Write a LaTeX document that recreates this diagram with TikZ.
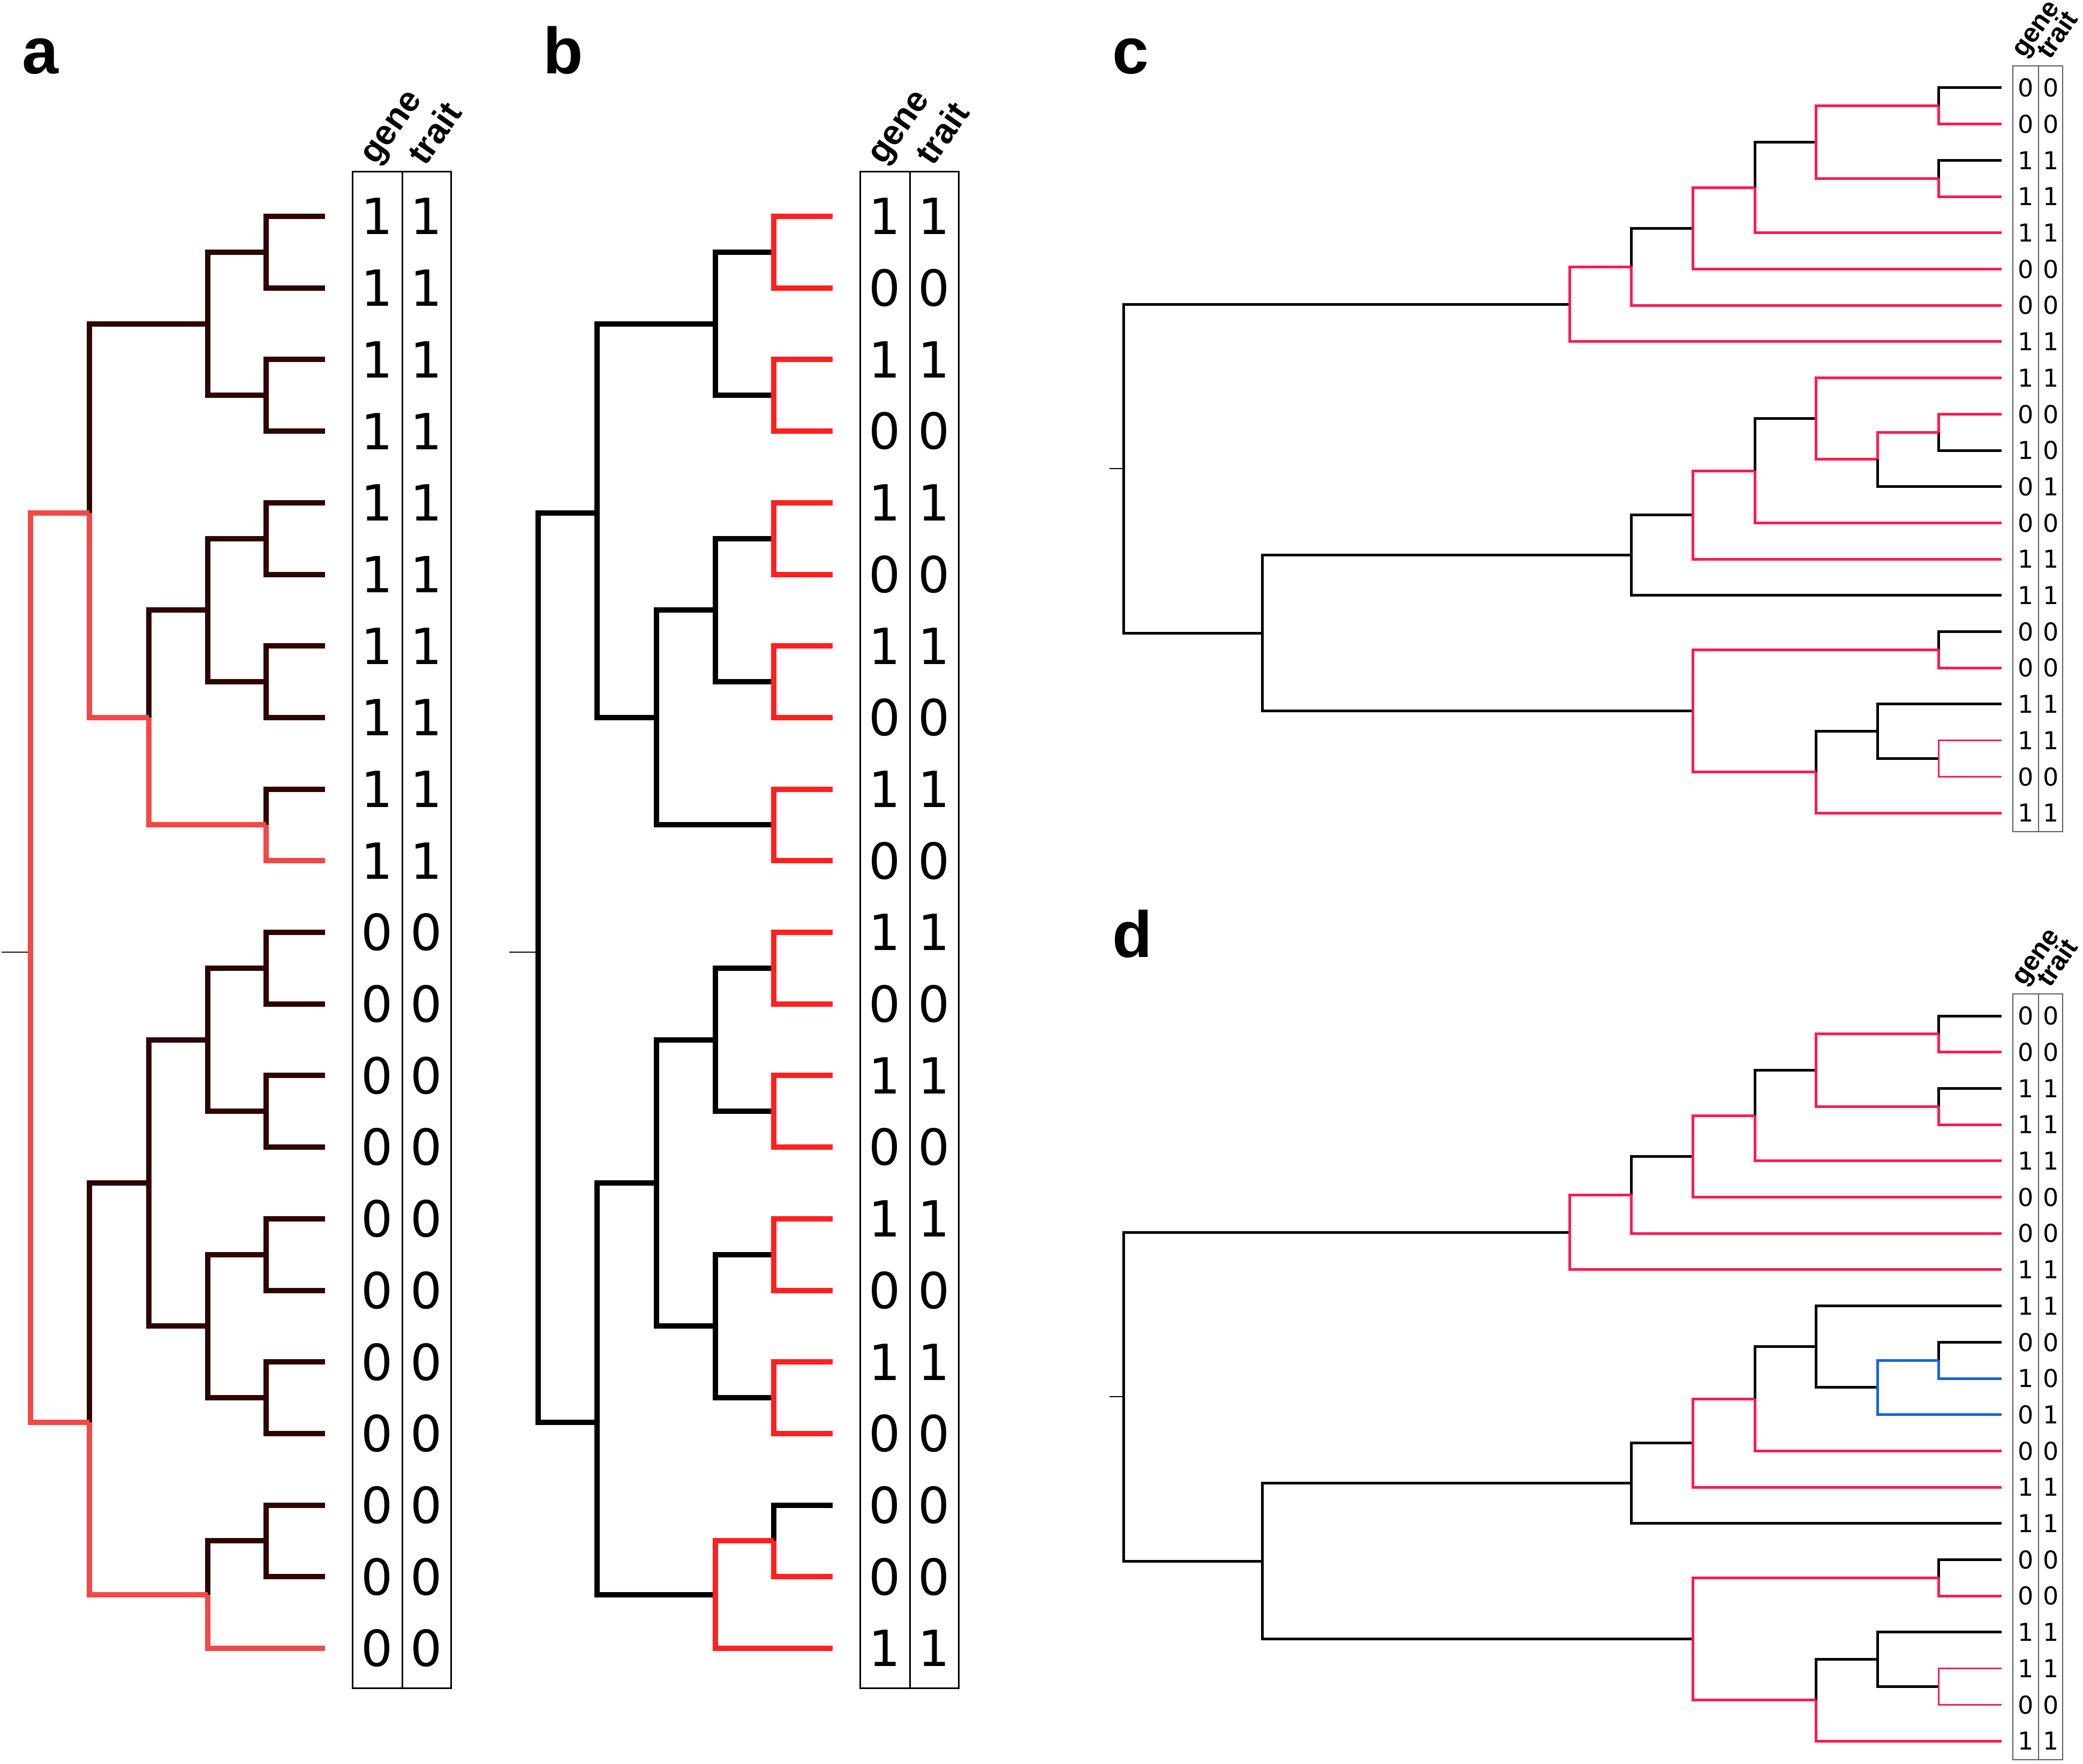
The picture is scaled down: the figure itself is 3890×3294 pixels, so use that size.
\documentclass[tikz,border=0pt]{standalone}
\usepackage{fontspec}
\newfontfamily\dfont{DejaVu Sans}
\newfontfamily\lfont{Liberation Sans}
\definecolor{adark}{RGB}{45,6,2}
\definecolor{ared}{RGB}{242,72,72}
\definecolor{bred}{RGB}{255,32,32}
\definecolor{cred}{RGB}{255,25,80}
\definecolor{cblue}{RGB}{20,100,230}
\definecolor{boxgray}{RGB}{90,90,90}
\tikzset{
  abline/.style={line width=10pt},
  adk/.style={abline,draw=adark},
  ard/.style={abline,draw=ared},
  bbk/.style={abline,draw=black},
  brd/.style={abline,draw=bred},
  cdline/.style={line width=5pt},
  cbk/.style={cdline,draw=black},
  crd/.style={cdline,draw=cred},
  cbl/.style={cdline,draw=cblue},
  crdthin/.style={line width=3pt,draw=cred},
  rootstub/.style={line width=2.5pt},
  bigbox/.style={draw=black,line width=3pt},
  smallbox/.style={draw=boxgray,line width=2.5pt},
  bigdigit/.style={font={\dfont\fontsize{93}{100}\selectfont},inner sep=0pt,anchor=center},
  smalldigit/.style={font={\dfont\fontsize{46}{50}\selectfont},inner sep=0pt,anchor=center},
  bighead/.style={font={\lfont\bfseries\fontsize{65}{70}\selectfont},rotate=55,anchor=base west,inner sep=0pt},
  smallhead/.style={font={\lfont\bfseries\fontsize{50}{54}\selectfont},rotate=55,anchor=base west,inner sep=0pt},
  panellabel/.style={font={\lfont\bfseries\fontsize{122}{130}\selectfont},anchor=base west,inner sep=0pt},
}
% coordinates of trees a and b
\newcommand\abcoords[1]{%
  \foreach \i in {1,...,21}{\coordinate (#1l\i) at (607,{404+133.7*(\i-1)});}
  \coordinate (#1c12) at (497,470.85);
  \coordinate (#1c34) at (497,738.25);
  \coordinate (#1c56) at (497,1005.65);
  \coordinate (#1c78) at (497,1273.05);
  \coordinate (#1c910) at (497,1540.45);
  \coordinate (#1c1112) at (497,1807.85);
  \coordinate (#1c1314) at (497,2075.25);
  \coordinate (#1c1516) at (497,2342.65);
  \coordinate (#1c1718) at (497,2610.05);
  \coordinate (#1c1920) at (497,2877.45);
  \coordinate (#1NA) at (387.5,604.55);
  \coordinate (#1NC) at (387.5,1139.35);
  \coordinate (#1NB) at (278,1339.9);
  \coordinate (#1Ntop) at (167,958);
  \coordinate (#1NF) at (387.5,1941.55);
  \coordinate (#1NG) at (387.5,2476.35);
  \coordinate (#1ND) at (278,2208.95);
  \coordinate (#1NE) at (387.5,2977.7);
  \coordinate (#1Nbot) at (167,2656);
  \coordinate (#1root) at (57,1778);
  \coordinate (#1stub) at (3,1778);
}
% table of a and b
\newcommand\abtable[3]{%
  \draw[bigbox] (658,321) rectangle (842,3152);
  \draw[bigbox] (751,321) -- (751,3152);
  \foreach \g [count=\i] in {#2}{\node[bigdigit] (#1g\i) at (704.5,{404+133.7*(\i-1)}) {\g};}
  \foreach \t [count=\i] in {#3}{\node[bigdigit] (#1t\i) at (796.5,{404+133.7*(\i-1)}) {\t};}
  \node[bighead] (#1hg) at (702,310) {gene};
  \node[bighead] (#1ht) at (794,312) {trait};
}
% coordinates of trees c and d
\newcommand\cdcoords[1]{%
  \foreach \i in {1,...,21}{\coordinate (#1l\i) at (3738,{164+67.7*(\i-1)});}
  \coordinate (#1N12) at (3620.5,197.85);
  \coordinate (#1N34) at (3620.5,333.25);
  \coordinate (#1N4) at (3391,265.55);
  \coordinate (#1N5) at (3277,350.15);
  \coordinate (#1N6) at (3161,426.3);
  \coordinate (#1N7) at (3046.5,498.25);
  \coordinate (#1T) at (2931,568.05);
  \coordinate (#1M1011) at (3620.5,807.15);
  \coordinate (#1M12) at (3506,857.9);
  \coordinate (#1M9) at (3391,781.75);
  \coordinate (#1M13) at (3277,879.1);
  \coordinate (#1M14) at (3161,961.6);
  \coordinate (#1B1) at (3046.5,1036.7);
  \coordinate (#1M1920) at (3620.5,1416.45);
  \coordinate (#1M18) at (3506,1365.7);
  \coordinate (#1M21) at (3391,1441.85);
  \coordinate (#1M1617) at (3620.5,1213.35);
  \coordinate (#1B2) at (3161,1327.6);
  \coordinate (#1B) at (2357,1182.15);
  \coordinate (#1root) at (2098,875.1);
  \coordinate (#1stub) at (2072,875.1);
}
% branches of c and d; #2..#7 styles of the branches that differ
\newcommand\cdbranches[7]{%
  \draw[black,rootstub] (#1stub) -- (#1root);
  \draw[cbk] (#1root) |- (#1T) (#1root) |- (#1B)
    (#1N7) |- (#1N6) (#1N5) |- (#1N4)
    (#1N12) |- (#1l1) (#1N34) |- (#1l3)
    (#1B) |- (#1B1) (#1B) |- (#1B2)
    (#1B1) |- (#1M14) (#1B1) |- (#1l15)
    (#1M13) |- (#1M9)
    (#1M1617) |- (#1l16)
    (#1M21) |- (#1M18) (#1M18) |- (#1l18) (#1M18) |- (#1M1920);
  \draw[crd] (#1T) |- (#1N7) (#1T) |- (#1l8)
    (#1N7) |- (#1l7) (#1N6) |- (#1N5) (#1N6) |- (#1l6)
    (#1N5) |- (#1l5) (#1N4) |- (#1N12) (#1N4) |- (#1N34)
    (#1N12) |- (#1l2) (#1N34) |- (#1l4)
    (#1M14) |- (#1M13) (#1M14) |- (#1l14) (#1M13) |- (#1l13)
    (#1B2) |- (#1M1617) (#1B2) |- (#1M21)
    (#1M1617) |- (#1l17) (#1M21) |- (#1l21);
  \draw[crdthin] (#1M1920) |- (#1l19) (#1M1920) |- (#1l20);
  \draw[#2] (#1M9) |- (#1l9);
  \draw[#3] (#1M9) |- (#1M12);
  \draw[#5] (#1M12) |- (#1l12);
  \draw[#6] (#1M1011) |- (#1l10);
  \draw[#7] (#1M1011) |- (#1l11);
  \draw[#4] (#1M12) |- (#1M1011);
}
\newcommand\cdtable[1]{%
  \draw[smallbox] (3759,123) rectangle (3852,1553);
  \draw[smallbox] (3807,123) -- (3807,1553);
  \foreach \g [count=\i] in {0,0,1,1,1,0,0,1,1,0,1,0,0,1,1,0,0,1,1,0,1}{\node[smalldigit] (#1g\i) at (3783,{164+67.7*(\i-1)}) {\g};}
  \foreach \t [count=\i] in {0,0,1,1,1,0,0,1,1,0,0,1,0,1,1,0,0,1,1,0,1}{\node[smalldigit] (#1t\i) at (3830,{164+67.7*(\i-1)}) {\t};}
  \node[smallhead] (#1hg) at (3780,110) {gene};
  \node[smallhead] (#1ht) at (3828,113) {trait};
}
\begin{document}
\begin{tikzpicture}[x=1pt,y=-1pt]
\useasboundingbox (0,0) rectangle (3890,3294);
\fill[white] (0,0) rectangle (3890,3294);

% panel labels
\node[panellabel] (labA) at (41,138) {a};
\node[panellabel] (labB) at (1014,138) {b};
\node[panellabel] (labC) at (2077,138) {c};
\node[panellabel] (labD) at (2077,1787) {d};

% ---------- panel a ----------
\abcoords{a}
\draw[adark,rootstub] (astub) -- (aroot);
\draw[adk] (aNtop) |- (aNA) (aNA) |- (ac12) (aNA) |- (ac34)
  (ac12) |- (al1) (ac12) |- (al2) (ac34) |- (al3) (ac34) |- (al4)
  (aNB) |- (aNC) (aNC) |- (ac56) (aNC) |- (ac78)
  (ac56) |- (al5) (ac56) |- (al6) (ac78) |- (al7) (ac78) |- (al8)
  (ac910) |- (al9)
  (aNbot) |- (aND) (aND) |- (aNF) (aND) |- (aNG)
  (aNF) |- (ac1112) (aNF) |- (ac1314) (aNG) |- (ac1516) (aNG) |- (ac1718)
  (ac1112) |- (al11) (ac1112) |- (al12) (ac1314) |- (al13) (ac1314) |- (al14)
  (ac1516) |- (al15) (ac1516) |- (al16) (ac1718) |- (al17) (ac1718) |- (al18)
  (aNE) |- (ac1920) (ac1920) |- (al19) (ac1920) |- (al20);
\draw[ard] (aroot) |- (aNtop) (aroot) |- (aNbot)
  (aNtop) |- (aNB) (aNB) |- (ac910) (ac910) |- (al10)
  (aNbot) |- (aNE) (aNE) |- (al21);
\abtable{a}{1,1,1,1,1,1,1,1,1,1,0,0,0,0,0,0,0,0,0,0,0}{1,1,1,1,1,1,1,1,1,1,0,0,0,0,0,0,0,0,0,0,0}

% ---------- panel b ----------
\begin{scope}[shift={(948,0)}]
\abcoords{b}
\draw[black,rootstub] (bstub) -- (broot);
\draw[bbk] (broot) |- (bNtop) (broot) |- (bNbot)
  (bNtop) |- (bNA) (bNtop) |- (bNB)
  (bNA) |- (bc12) (bNA) |- (bc34)
  (bNB) |- (bNC) (bNB) |- (bc910) (bNC) |- (bc56) (bNC) |- (bc78)
  (bNbot) |- (bND) (bND) |- (bNF) (bND) |- (bNG)
  (bNF) |- (bc1112) (bNF) |- (bc1314) (bNG) |- (bc1516) (bNG) |- (bc1718)
  (bNbot) |- (bNE) (bc1920) |- (bl19);
\draw[brd] (bc12) |- (bl1) (bc12) |- (bl2) (bc34) |- (bl3) (bc34) |- (bl4)
  (bc56) |- (bl5) (bc56) |- (bl6) (bc78) |- (bl7) (bc78) |- (bl8)
  (bc910) |- (bl9) (bc910) |- (bl10)
  (bc1112) |- (bl11) (bc1112) |- (bl12) (bc1314) |- (bl13) (bc1314) |- (bl14)
  (bc1516) |- (bl15) (bc1516) |- (bl16) (bc1718) |- (bl17) (bc1718) |- (bl18)
  (bNE) |- (bc1920) (bNE) |- (bl21) (bc1920) |- (bl20);
\abtable{b}{1,0,1,0,1,0,1,0,1,0,1,0,1,0,1,0,1,0,0,0,1}{1,0,1,0,1,0,1,0,1,0,1,0,1,0,1,0,1,0,0,0,1}
\end{scope}

% ---------- panel c ----------
\cdcoords{c}
\cdbranches{c}{crd}{crd}{crd}{cbk}{crd}{cbk}
\cdtable{c}

% ---------- panel d ----------
\begin{scope}[shift={(0,1733)}]
\cdcoords{d}
\cdbranches{d}{cbk}{cbk}{cbl}{cbl}{cbk}{cbl}
\cdtable{d}
\end{scope}
\end{tikzpicture}
\end{document}
